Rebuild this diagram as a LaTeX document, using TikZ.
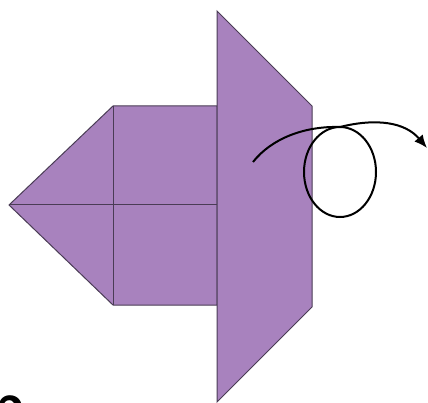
\documentclass[tikz,border=0pt]{standalone}
\usetikzlibrary{arrows.meta}
\definecolor{paper}{HTML}{A882BE}
\definecolor{crease}{HTML}{4A3C55}

\begin{document}
\begin{tikzpicture}[>={Latex[length=13pt,width=11pt]},x=1pt,y=-1pt,
  flap/.style={fill=paper,draw=crease,line width=1pt,line join=miter},
  fold/.style={draw=crease,line width=1pt},
  turn/.style={draw=black,line width=2pt}]
  \useasboundingbox (0,0) rectangle (428,403);
  % back layer: point on the left and the square
  \draw[flap] (9,205) -- (113,106) -- (217,106) -- (217,305) -- (113,305) -- cycle;
  \draw[fold] (113,106) -- (113,305);
  \draw[fold] (9,205) -- (217,205);
  % front flap
  \draw[flap] (217,11) -- (312,106) -- (312,307) -- (217,402) -- cycle;
  % turn over arrow with loop
  \draw[turn] (253,162) .. controls (272,138) and (305,126) .. (340,127);
  \draw[turn] (340,172) ellipse (36 and 45);
  \draw[turn,->] (340,127) .. controls (376,118) and (405,122) .. (427,148);
  % step number, cut by the edge
  \node[anchor=base,inner sep=0pt,font=\fontsize{50}{50}\selectfont\sffamily\bfseries] (stepnum) at (11,431) {2};
\end{tikzpicture}
\end{document}
